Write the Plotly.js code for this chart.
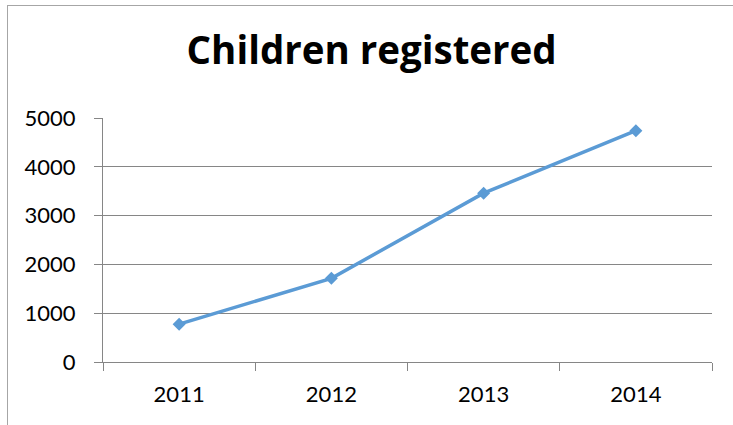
<!DOCTYPE html>
<html>
<head>
<meta charset="utf-8">
<script src="https://cdn.plot.ly/plotly-3.0.1.min.js"></script>
<style>
  html, body { margin: 0; padding: 0; background: #fff; }
  #wrap { position: relative; width: 733px; height: 425px; overflow: hidden; }
  #chart { position: absolute; left: 0; top: 0; width: 733px; height: 425px; }
  #frame { position: absolute; left: 7px; top: 5px; width: 800px; height: 500px;
           border-left: 1px solid #a6a6a6; border-top: 1px solid #a6a6a6; pointer-events: none; }
</style>
</head>
<body>
<div id="wrap">
  <div id="chart"></div>
  <div id="frame"></div>
</div>
<script>
const years = ['2011', '2012', '2013', '2014'];
const childrenRegistered = [775, 1715, 3460, 4740];
const yTickValues = [0, 1000, 2000, 3000, 4000, 5000];
const chartTitle = 'Children registered';

const trace = {
  type: 'scatter',
  mode: 'lines+markers',
  x: years,
  y: childrenRegistered,
  line: { color: '#5b9bd5', width: 3.5 },
  marker: { symbol: 'diamond', size: 10, color: '#5b9bd5' },
  hoverinfo: 'x+y'
};

const layout = {
  width: 733,
  height: 425,
  margin: { l: 103, r: 21, t: 117.5, b: 62.5 },
  paper_bgcolor: '#ffffff',
  plot_bgcolor: '#ffffff',
  showlegend: false,
  font: { family: 'Lato, "Open Sans", sans-serif', color: '#000000', size: 22 },
  title: {
    text: chartTitle,
    font: { family: '"Open Sans", Lato, sans-serif', size: 38.5, color: '#000000', weight: 'bold' },
    x: 0.507, xanchor: 'center', xref: 'container',
    y: 0.882, yref: 'container', yanchor: 'middle'
  },
  xaxis: {
    type: 'category',
    range: [-0.5, 3.5],
    tickson: 'boundaries',
    ticks: 'outside',
    ticklen: 8,
    tickcolor: '#868686',
    tickwidth: 1,
    showline: true,
    linecolor: '#868686',
    linewidth: 1,
    showgrid: false,
    zeroline: false,
    ticklabelstandoff: 13,
    tickfont: { size: 22, color: '#000000' },
    fixedrange: true
  },
  yaxis: {
    range: [0, 5000],
    tickvals: yTickValues,
    ticktext: yTickValues.map(String),
    ticks: 'outside',
    ticklen: 8,
    tickcolor: '#868686',
    tickwidth: 1,
    showline: true,
    linecolor: '#868686',
    linewidth: 1,
    showgrid: true,
    gridcolor: '#868686',
    gridwidth: 1,
    zeroline: false,
    ticklabelstandoff: 14,
    tickfont: { size: 22, color: '#000000' },
    fixedrange: true
  }
};

Plotly.newPlot('chart', [trace], layout, { displayModeBar: false, staticPlot: true });
</script>
</body>
</html>
